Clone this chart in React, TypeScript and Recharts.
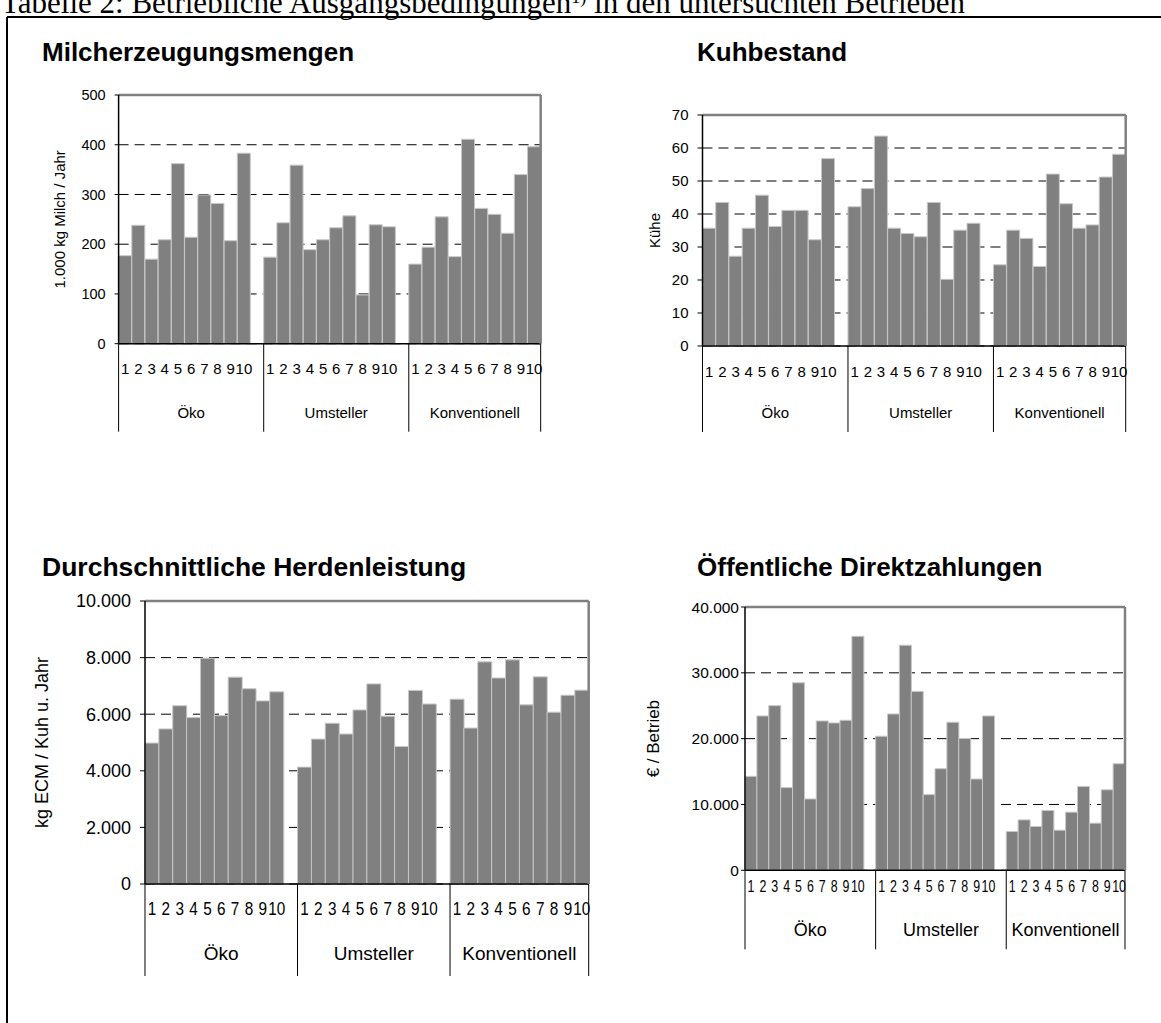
import React from "react";
import { BarChart, Bar, XAxis, YAxis, CartesianGrid, ReferenceLine, Label } from "recharts";

const FONT = "'Liberation Sans', Arial, Helvetica, sans-serif";

const groups = ["Öko", "Umsteller", "Konventionell"];
const farmNumbers = ["1", "2", "3", "4", "5", "6", "7", "8", "9", "10"];

// Milcherzeugungsmengen (1.000 kg Milch / Jahr)
const milkOeko = [177, 238, 170, 209, 362, 214, 299, 282, 207, 383];
const milkUmst = [174, 243, 359, 189, 209, 233, 257, 98, 239, 235];
const milkKonv = [160, 194, 255, 175, 411, 272, 260, 222, 340, 396];
const milkTicks = [0, 100, 200, 300, 400, 500];

// Kuhbestand (Kühe)
const cowsOeko = [35.7, 43.5, 27.2, 35.7, 45.7, 36.2, 41.1, 41.1, 32.2, 56.8];
const cowsUmst = [42.2, 47.7, 63.6, 35.7, 34.1, 33.1, 43.5, 20.2, 35.1, 37.2];
const cowsKonv = [24.6, 35.1, 32.6, 24.1, 52.1, 43.1, 35.7, 36.7, 51.2, 58.1];
const cowsTicks = [0, 10, 20, 30, 40, 50, 60, 70];

// Durchschnittliche Herdenleistung (kg ECM / Kuh u. Jahr)
const yieldOeko = [4980, 5480, 6300, 5880, 7980, 5950, 7310, 6900, 6470, 6790];
const yieldUmst = [4130, 5120, 5680, 5300, 6150, 7070, 5930, 4860, 6840, 6360];
const yieldKonv = [6530, 5510, 7850, 7280, 7920, 6330, 7320, 6070, 6670, 6850];
const yieldTicks = [0, 2000, 4000, 6000, 8000, 10000];

// Öffentliche Direktzahlungen (€ / Betrieb)
const payOeko = [14270, 23450, 25010, 12560, 28490, 10840, 22690, 22390, 22790, 35550];
const payUmst = [20370, 23750, 34190, 27180, 11500, 15430, 22490, 20020, 13870, 23450];
const payKonv = [5890, 7660, 6650, 9090, 6090, 8830, 12740, 7160, 12230, 16190];
const payTicks = [0, 10000, 20000, 30000, 40000];

type Row = { key: string; label: string; group: number; pos: number; value: number | null };

// one empty slot after each group except the last
function buildRows(series: number[][]): Row[] {
  const rows: Row[] = [];
  series.forEach((vals, g) => {
    vals.forEach((v, i) => rows.push({ key: `${g}-${i}`, label: farmNumbers[i], group: g, pos: i, value: v }));
    if (g < series.length - 1) rows.push({ key: `${g}-gap`, label: "", group: g, pos: vals.length, value: null });
  });
  return rows;
}

function fmt(v: number) {
  if (v < 1000) return String(v);
  const k = Math.floor(v / 1000);
  return `${k}.${String(v % 1000).padStart(3, "0")}`;
}

const MT = 10;
const MR = 14;

type PanelProps = {
  rows: Row[];
  ticks: number[];
  yLabel: string;
  x0: number;
  x1: number;
  y0: number;
  y1: number;
  left: number;
  labelX: number;
  font: number;
  tickFont: number;
  numFont: number;
  numScale: number;
  groupFont: number;
  numDy: number;
  groupDy: number;
  sepLen: number;
  tickSize: number;
  tickMargin: number;
};

function Panel(p: PanelProps) {
  const plotW = p.x1 - p.x0;
  const plotH = p.y1 - p.y0;
  const yw = p.x0 - p.left;
  const xh = p.sepLen + 6;
  const width = yw + plotW + 1 + MR;
  const height = MT + plotH + xh;
  const bw = plotW / p.rows.length;
  const axisY = MT + plotH;
  const max = p.ticks[p.ticks.length - 1];
  const byKey = new Map(p.rows.map((r) => [r.key, r]));
  const lastKey = p.rows[p.rows.length - 1].key;
  const groupSize = (g: number) => p.rows.filter((r) => r.group === g).length;

  const renderTick = (props: any) => {
    const row = byKey.get(props.payload?.value);
    if (!row) return <g />;
    const cx = props.x;
    const edge = cx - bw / 2;
    return (
      <g>
        {row.label && (
          <text
            transform={`translate(${cx},${axisY + p.numDy}) scale(${p.numScale},1)`}
            textAnchor="middle"
            dominantBaseline="central"
            fontSize={p.numFont}
            fontFamily={FONT}
            fill="#000"
          >
            {row.label}
          </text>
        )}
        {row.pos === 0 && (
          <>
            <line x1={edge} x2={edge} y1={axisY} y2={axisY + p.sepLen} stroke="#000" strokeWidth={1} />
            <text
              x={edge + (groupSize(row.group) * bw) / 2}
              y={axisY + p.groupDy}
              textAnchor="middle"
              dominantBaseline="central"
              fontSize={p.groupFont}
              fontFamily={FONT}
              fill="#000"
            >
              {groups[row.group]}
            </text>
          </>
        )}
        {row.key === lastKey && (
          <line x1={cx + bw / 2} x2={cx + bw / 2} y1={axisY} y2={axisY + p.sepLen} stroke="#000" strokeWidth={1} />
        )}
      </g>
    );
  };

  return (
    <div style={{ position: "absolute", left: p.left, top: p.y0 - MT }}>
      <BarChart
        width={width}
        height={height}
        data={p.rows}
        margin={{ top: MT, right: MR, left: 0, bottom: 0 }}
        barCategoryGap={0}
        barGap={0}
      >
        <CartesianGrid vertical={false} stroke="#000" strokeDasharray="10 6" />
        <XAxis
          dataKey="key"
          type="category"
          interval={0}
          height={xh}
          tickLine={false}
          tickSize={0}
          axisLine={{ stroke: "#000", strokeWidth: 1.5 }}
          tick={renderTick}
        />
        <YAxis
          width={yw}
          domain={[0, max]}
          ticks={p.ticks}
          interval={0}
          tickSize={p.tickSize}
          tickMargin={p.tickMargin}
          tickLine={{ stroke: "#000" }}
          axisLine={{ stroke: "#000", strokeWidth: 1.5 }}
          tick={{ fontSize: p.tickFont, fill: "#000", fontFamily: FONT }}
          tickFormatter={fmt}
        >
          <Label
            value={p.yLabel}
            angle={-90}
            position="insideLeft"
            offset={p.labelX - p.left}
            style={{ textAnchor: "middle", fontSize: p.font, fontFamily: FONT, fill: "#000" }}
          />
        </YAxis>
        <YAxis
          yAxisId="r"
          orientation="right"
          width={1}
          domain={[0, max]}
          tick={false}
          tickLine={false}
          axisLine={{ stroke: "#808080", strokeWidth: 2.5 }}
        />
        <ReferenceLine y={max} stroke="#808080" strokeWidth={2.5} />
        <Bar dataKey="value" fill="#808080" stroke="#c8c8c8" strokeWidth={1} isAnimationActive={false} />
      </BarChart>
    </div>
  );
}

const titleStyle = { fontFamily: FONT, fontWeight: 700, fontSize: 26, fill: "#000" } as const;

export default function App() {
  return (
    <div
      style={{
        position: "absolute",
        left: 0,
        top: 0,
        width: 1161,
        height: 1023,
        overflow: "hidden",
        background: "#fff",
      }}
    >
      <svg width={1161} height={1023} style={{ position: "absolute", left: 0, top: 0 }}>
        <text x={1} y={13} fontFamily="'Liberation Serif', 'Times New Roman', serif" fontSize={31} fill="#000">
          Tabelle 2: Betriebliche Ausgangsbedingungen
          <tspan fontSize={18} dy={-10}>1)</tspan>
          <tspan dy={10}> in den untersuchten Betrieben</tspan>
        </text>
        <line x1={7} x2={1161} y1={17} y2={17} stroke="#000" strokeWidth={2} />
        <line x1={7} x2={7} y1={17} y2={1023} stroke="#000" strokeWidth={2} />
        <text x={42} y={61} style={titleStyle}>Milcherzeugungsmengen</text>
        <text x={697} y={61} style={titleStyle}>Kuhbestand</text>
        <text x={42} y={576} style={{ ...titleStyle, fontSize: 26.5 }}>Durchschnittliche Herdenleistung</text>
        <text x={697} y={576} style={titleStyle}>Öffentliche Direktzahlungen</text>
      </svg>

      <Panel
        rows={buildRows([milkOeko, milkUmst, milkKonv])}
        ticks={milkTicks}
        yLabel="1.000 kg Milch / Jahr"
        x0={118.6}
        x1={540.7}
        y0={95.3}
        y1={344}
        left={20}
        labelX={60}
        font={15}
        tickFont={14.5}
        numFont={15}
        numScale={1}
        groupFont={15}
        numDy={25}
        groupDy={69}
        sepLen={88}
        tickSize={4}
        tickMargin={9}
      />
      <Panel
        rows={buildRows([cowsOeko, cowsUmst, cowsKonv])}
        ticks={cowsTicks}
        yLabel="Kühe"
        x0={702.5}
        x1={1125.7}
        y0={115}
        y1={346}
        left={620}
        labelX={654.5}
        font={15}
        tickFont={15}
        numFont={15}
        numScale={1}
        groupFont={15}
        numDy={26}
        groupDy={67}
        sepLen={86}
        tickSize={5}
        tickMargin={9}
      />
      <Panel
        rows={buildRows([yieldOeko, yieldUmst, yieldKonv])}
        ticks={yieldTicks}
        yLabel="kg ECM / Kuh u. Jahr"
        x0={145}
        x1={588.7}
        y0={601}
        y1={884}
        left={10}
        labelX={42}
        font={18}
        tickFont={18}
        numFont={18}
        numScale={0.85}
        groupFont={19}
        numDy={25}
        groupDy={70}
        sepLen={92}
        tickSize={5}
        tickMargin={9}
      />
      <Panel
        rows={buildRows([payOeko, payUmst, payKonv])}
        ticks={payTicks}
        yLabel="€ / Betrieb"
        x0={745}
        x1={1125}
        y0={606.7}
        y1={870}
        left={620}
        labelX={653}
        font={17}
        tickFont={15.5}
        numFont={16.5}
        numScale={0.75}
        groupFont={18}
        numDy={16}
        groupDy={60}
        sepLen={79}
        tickSize={4}
        tickMargin={2}
      />
    </div>
  );
}
